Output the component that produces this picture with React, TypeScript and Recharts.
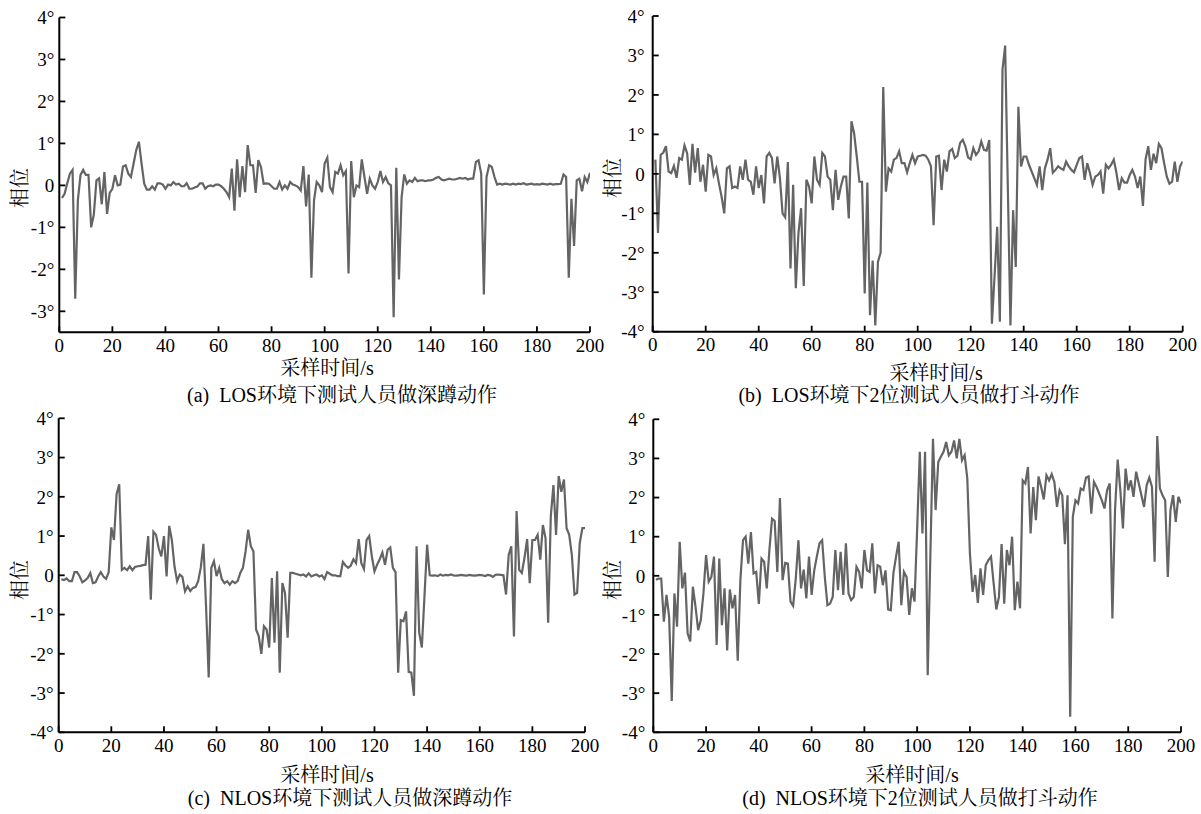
import React from 'react';
import { LineChart, Line, XAxis, YAxis } from 'recharts';

const xTicks = [0, 20, 40, 60, 80, 100, 120, 140, 160, 180, 200];
const yTicksA = [-3, -2, -1, 0, 1, 2, 3, 4];
const yTicksFull = [-4, -3, -2, -1, 0, 1, 2, 3, 4];

const captionA = '(a)\u2002LOS环境下测试人员做深蹲动作';
const captionB = '(b)\u2002LOS环境下2位测试人员做打斗动作';
const captionC = '(c)\u2002NLOS环境下测试人员做深蹲动作';
const captionD = '(d)\u2002NLOS环境下2位测试人员做打斗动作';
const xTitle = '采样时间/s';
const yTitle = '相位';

// (a) LOS, squat
const seriesA = [
  -0.3, -0.2, 0.05, 0.28, 0.37, -2.7, -0.35, 0.25, 0.37, 0.25,
  0.25, -1.0, -0.7, 0.12, 0.17, -0.45, 0.32, -0.68, -0.18, -0.08,
  0.24, 0, 0.02, 0.45, 0.48, 0.28, 0.2, 0.52, 0.84, 1.04,
  0.52, 0.04, -0.1, -0.1, -0.02, -0.1, 0.05, 0.05, 0.02, -0.08,
  0.02, 0, 0.08, 0.02, 0.04, -0.02, -0.02, 0.05, -0.08, -0.08,
  -0.05, -0.03, 0.05, 0.05, -0.08, -0.02, 0, -0.02, 0.02, 0.02,
  -0.02, -0.08, -0.16, -0.28, 0.4, -0.6, 0.62, -0.28, 0.46, -0.16,
  0.96, 0.48, 0.48, -0.18, 0.6, 0.44, 0.04, 0.05, 0.04, -0.02,
  -0.08, -0.08, 0.08, -0.1, 0, -0.08, 0.08, 0.02, 0, -0.04,
  -0.12, 0.46, -0.5, 0.26, -2.2, -0.35, 0.08, 0, -0.16, 0.52,
  0.66, -0.04, -0.16, 0.32, 0.28, 0.48, 0.24, 0.34, -2.1, 0.58,
  -0.28, 0, -0.04, 0.62, 0.2, -0.2, 0.16, 0, -0.08, 0.08,
  0.34, 0.08, 0.2, 0.05, 0, -3.14, 0.42, -2.24, -0.28, 0.26,
  0.04, 0.12, 0.08, 0.18, 0.1, 0.12, 0.12, 0.1, 0.12, 0.12,
  0.14, 0.18, 0.2, 0.14, 0.12, 0.14, 0.16, 0.14, 0.14, 0.16,
  0.18, 0.16, 0.18, 0.14, 0.16, 0.16, 0.56, 0.6, 0.28, -2.6,
  0.2, 0.48, 0.44, 0.2, 0.02, 0.04, 0.02, 0.04, 0.03, 0.02,
  0.04, 0.02, 0.04, 0.03, 0.05, 0.02, 0.03, 0.04, 0.02, 0.03,
  0.02, 0.04, 0.03, 0.02, 0.04, 0.02, 0.03, 0.03, 0.04, 0.26,
  0.2, -2.2, -0.32, -1.44, 0.12, 0.16, -0.14, 0.2, 0.08, 0.3,
];

// (b) LOS, two people fighting
const seriesB = [
  0.36, -1.5, 0.48, 0.54, 0.7, 0.06, 0.02, 0.2, -0.1, 0.4,
  0.36, 0.72, 0.52, -0.28, 0.76, 0.03, 0.65, -0.2, 0.23, -0.45,
  0.48, 0.44, -0.03, 0.14, -0.24, -0.58, -1.0, 0.14, 0.19, -0.36,
  -0.32, -0.36, 0.19, -0.15, 0.36, -0.15, -0.2, -0.53, 0.19, -0.36,
  -0.03, -0.75, 0.44, 0.53, 0.4, -0.24, 0.44, -0.1, -1.0, -1.1,
  0.3, -2.4, -0.28, -2.9, -1.5, -0.87, -2.84, -0.15, -0.32, -0.75,
  0.44, -0.15, -0.28, 0.53, 0.44, -0.07, -0.15, -0.92, 0.1, -0.66,
  -0.32, -0.07, -0.07, -1.13, 1.33, 1.03, 0.44, -0.2, -0.2, -3.03,
  -0.22, -3.58, -2.2, -3.84, -2.23, -2.0, 2.2, -0.45, 0.14, 0.06,
  0.36, 0.4, 0.57, 0.27, 0.27, 0.04, 0.27, 0.48, 0.27, 0.44,
  0.46, 0.48, 0.46, 0.36, 0.19, -1.3, 0.44, 0.46, -0.41, 0.36,
  0.06, 0.57, 0.63, 0.4, 0.46, 0.78, 0.86, 0.7, 0.42, 0.37,
  0.65, 0.48, 0.57, 0.82, 0.61, 0.59, 0.86, -3.8, -2.6, -1.34,
  -3.75, 2.64, 3.25, -0.3, -3.84, -0.92, -2.36, 1.7, 0.19, 0.44,
  0.44, 0.23, 0.06, -0.11, -0.28, 0.19, -0.41, 0.14, 0.36, 0.65,
  0.03, 0.1, 0.19, 0.14, 0.1, 0.31, 0.19, 0.1, 0.04, 0.23,
  0.4, 0.44, -0.15, 0.27, 0.02, -0.28, -0.07, -0.03, 0.06, -0.5,
  0.23, 0.14, 0.23, 0.36, 0.02, -0.41, -0.11, -0.22, -0.22, -0.03,
  0.1, -0.07, -0.36, -0.07, -0.81, 0.37, 0.7, 0.1, 0.51, 0.27,
  0.76, 0.65, 0.27, -0.07, -0.25, -0.2, 0.31, -0.2, 0.19, 0.31,
];

// (c) NLOS, squat
const seriesC = [
  -0.1, -0.12, -0.08, -0.15, -0.15, 0.08, 0.08, -0.03, -0.18, -0.13,
  -0.07, 0.06, -0.2, -0.18, -0.03, 0.08, -0.03, -0.09, 0.08, 1.22,
  0.9, 2.07, 2.32, 0.14, 0.19, 0.13, 0.23, 0.13, 0.21, 0.23,
  0.24, 0.26, 0.27, 1.0, -0.62, 1.11, 1.03, 0.69, 0.48, 1.0,
  -0.03, 1.26, 0.9, 0.23, -0.15, 0.02, -0.04, -0.41, -0.28, -0.4,
  -0.32, -0.3, -0.15, 0.2, 0.8, -0.8, -2.6, 0.19, 0.36, -0.02,
  0.19, -0.1, -0.2, -0.15, -0.24, -0.15, -0.2, -0.15, 0.06, 0.19,
  0.6, 1.16, 0.74, 0.61, -1.38, -1.55, -2.0, -1.3, -1.38, -1.84,
  -0.07, -1.72, 0.1, -2.48, -0.2, -0.45, -1.59, 0.06, 0.06, 0.04,
  0.02, 0.0, 0.02, -0.03, 0.05, -0.03, 0.0, 0.02, -0.03, 0.0,
  -0.1, 0.08, 0.04, 0, 0, -0.02, -0.02, 0.34, 0.25, 0.19,
  0.25, 0.41, 0.31, 0.92, 0.31, 0.16, 0.9, 1.0, 0.48, 0.1,
  0.27, 0.41, 0.58, 0.27, 0.65, 0.71, 0.19, 0.08, -2.48, -1.14,
  -1.17, -0.92, -2.46, -2.48, -3.07, 0.74, -1.46, -1.84, -0.53, 0.78,
  0, -0.01, 0, -0.02, 0.02, -0.01, 0.01, 0, 0.02, 0,
  -0.01, 0, 0.01, 0, -0.01, 0.01, 0, -0.01, 0, 0.01,
  0, -0.02, 0.01, 0, -0.04, 0.01, 0.02, 0.01, 0, -0.49,
  0.52, 0.74, -1.56, 1.64, 0.14, 0.06, 0.44, 0.92, -0.2, 0.9,
  0.9, 1.03, 0.4, 1.28, 0.95, -1.21, 1.5, 2.3, 1.03, 2.53,
  2.13, 2.44, 1.2, 1.03, 0.52, -0.49, -0.45, 0.82, 1.2, 1.2,
];

// (d) NLOS, two people fighting
const seriesD = [
  -0.1, -0.07, -0.07, -1.17, -0.49, -1.05, -3.2, -0.45, -1.3, 0.87,
  -0.32, 0.08, -1.47, -1.68, -0.28, -0.79, -1.39, -1.13, -0.45, 0.53,
  -0.15, -0.03, 0.49, -1.77, 0.44, -1.26, -0.32, -1.91, -0.35, -0.83,
  -0.49, -2.17, -0.11, 0.91, 1.0, 0.31, 1.12, 0.06, 0.1, -0.72,
  0.44, 0.36, -0.32, 0.66, 1.46, 1.4, 0.1, 1.99, -0.11, 0.33,
  0.31, -0.66, -0.77, -0.07, 0.91, -0.32, 0.16, -0.58, 0.49, -0.49,
  0.14, 0.5, 0.83, 0.91, -0.03, -0.75, -0.71, -0.54, 0.66, -0.37,
  0.61, -0.49, 0.83, -0.45, -0.62, -0.54, 0.23, 0.1, -0.32, 0.66,
  0.14, 0.1, 0.83, -0.45, 0.27, 0.23, -0.24, 0.14, -0.86, -0.88,
  0.06, 0.49, 0.87, -0.75, 0.1, -0.03, -1.0, -0.32, -0.66, 1.2,
  3.17, 1.08, 3.17, -2.54, 0.5, 3.5, 1.68, 2.91, 3.04, 3.17,
  3.42, 3.08, 3.17, 3.46, 3.0, 3.5, 2.95, 3.08, 2.49, 0.57,
  -0.41, 0.02, -0.69, 0.19, -0.49, 0.27, 0.4, 0.49, -0.2, -0.86,
  -0.54, 0.81, -0.71, 0.66, 0.27, 1.0, -0.88, -0.15, -0.83, 2.44,
  2.36, 2.78, 1.08, 2.27, 1.42, 2.54, 2.27, 1.95, 2.57, 2.44,
  2.6, 2.4, 1.76, 2.19, 2.06, 0.81, 2.06, -3.6, 1.51, 1.93,
  1.85, 2.23, 2.19, 2.51, 2.54, 1.59, 2.4, 2.27, 2.1, 1.93,
  1.72, 2.19, 2.36, -1.09, 1.68, 2.97, 2.19, 1.21, 2.74, 2.19,
  2.44, 2.02, 2.66, 2.36, 2.06, 1.76, 2.32, 2.51, 2.27, 0.36,
  3.57, 2.23, 2.06, 1.93, -0.03, 1.68, 2.06, 1.38, 2.02, 1.85,
];

const latin = "'Liberation Serif', 'Times New Roman', serif";
const mixed = "'Liberation Serif', 'Noto Serif CJK SC', 'Noto Sans CJK SC', serif";

const fmtY = (v: number) => (v === 0 ? '0' : `${v}°`);

type PanelProps = {
  values: number[];
  left: number;
  top: number;
  width: number;
  height: number;
  mTop: number;
  mRight: number;
  mBottom: number;
  yWidth: number;
  yDomain: [number, number];
  yTicks: number[];
  yGap: number;
};

function Panel(p: PanelProps) {
  const data = p.values.map((v, i) => ({ t: i + 1, v }));
  const axisLine = { stroke: '#000', strokeWidth: 2 };
  const tickLine = { stroke: '#000', strokeWidth: 1.8 };
  const tick = { fill: '#000', fontSize: 19, fontFamily: latin };
  return (
    <div style={{ position: 'absolute', left: p.left, top: p.top }}>
      <LineChart
        width={p.width}
        height={p.height}
        data={data}
        margin={{ top: p.mTop, right: p.mRight, bottom: p.mBottom, left: 0 }}
      >
        <XAxis
          dataKey="t"
          type="number"
          domain={[0, 200]}
          ticks={xTicks}
          interval={0}
          height={30}
          tickSize={-6}
          tickMargin={12}
          axisLine={axisLine}
          tickLine={tickLine}
          tick={tick}
          allowDataOverflow
        />
        <XAxis
          xAxisId="top"
          orientation="top"
          type="number"
          domain={[0, 200]}
          height={0}
          tick={false}
          tickLine={false}
          axisLine={axisLine}
        />
        <YAxis
          type="number"
          domain={p.yDomain}
          ticks={p.yTicks}
          interval={0}
          width={p.yWidth}
          tickSize={-6}
          tickMargin={p.yGap + 6}
          tickFormatter={fmtY}
          axisLine={axisLine}
          tickLine={tickLine}
          tick={tick}
          allowDataOverflow
        />
        <YAxis
          yAxisId="right"
          orientation="right"
          type="number"
          domain={p.yDomain}
          width={0}
          tick={false}
          tickLine={false}
          axisLine={axisLine}
        />
        <Line
          type="linear"
          dataKey="v"
          stroke="#646464"
          strokeWidth={2.2}
          dot={false}
          isAnimationActive={false}
        />
      </LineChart>
    </div>
  );
}

function Txt({ x, y, children }: { x: number; y: number; children: React.ReactNode }) {
  return (
    <div
      style={{
        position: 'absolute',
        left: x,
        top: y,
        transform: 'translate(-50%, -50%)',
        fontFamily: mixed,
        fontSize: 20,
        lineHeight: 1,
        whiteSpace: 'pre',
        color: '#000',
      }}
    >
      {children}
    </div>
  );
}

function YTxt({ x, y }: { x: number; y: number }) {
  return (
    <div
      style={{
        position: 'absolute',
        left: x,
        top: y,
        transform: 'translate(-50%, -50%) rotate(-90deg)',
        fontFamily: mixed,
        fontSize: 20,
        lineHeight: 1,
        whiteSpace: 'pre',
        color: '#000',
      }}
    >
      {yTitle}
    </div>
  );
}

export default function App() {
  return (
    <div
      style={{
        position: 'absolute',
        left: 0,
        top: 0,
        width: 1201,
        height: 814,
        background: '#fff',
        overflow: 'hidden',
      }}
    >
      <Panel values={seriesA} left={0} top={0} width={620} height={400} mTop={17.5} mRight={30} mBottom={37.7} yWidth={59.3} yDomain={[-3.5, 4]} yTicks={yTicksA} yGap={5} />
      <Panel values={seriesB} left={600} top={0} width={601} height={400} mTop={16} mRight={18.3} mBottom={38.3} yWidth={52.7} yDomain={[-4, 4]} yTicks={yTicksFull} yGap={8} />
      <Panel values={seriesC} left={0} top={400} width={620} height={414} mTop={18.3} mRight={35} mBottom={51.7} yWidth={58.7} yDomain={[-4, 4]} yTicks={yTicksFull} yGap={5} />
      <Panel values={seriesD} left={600} top={400} width={601} height={414} mTop={19.3} mRight={20} mBottom={51.7} yWidth={53.3} yDomain={[-4, 4]} yTicks={yTicksFull} yGap={8} />

      <Txt x={327} y={368}>{xTitle}</Txt>
      <Txt x={936} y={373}>{xTitle}</Txt>
      <Txt x={327} y={775}>{xTitle}</Txt>
      <Txt x={912} y={775}>{xTitle}</Txt>

      <Txt x={342} y={395}>{captionA}</Txt>
      <Txt x={909} y={395}>{captionB}</Txt>
      <Txt x={350} y={798}>{captionC}</Txt>
      <Txt x={920} y={798}>{captionD}</Txt>

      <YTxt x={20} y={188} />
      <YTxt x={613} y={178} />
      <YTxt x={20} y={580} />
      <YTxt x={613} y={580} />
    </div>
  );
}
